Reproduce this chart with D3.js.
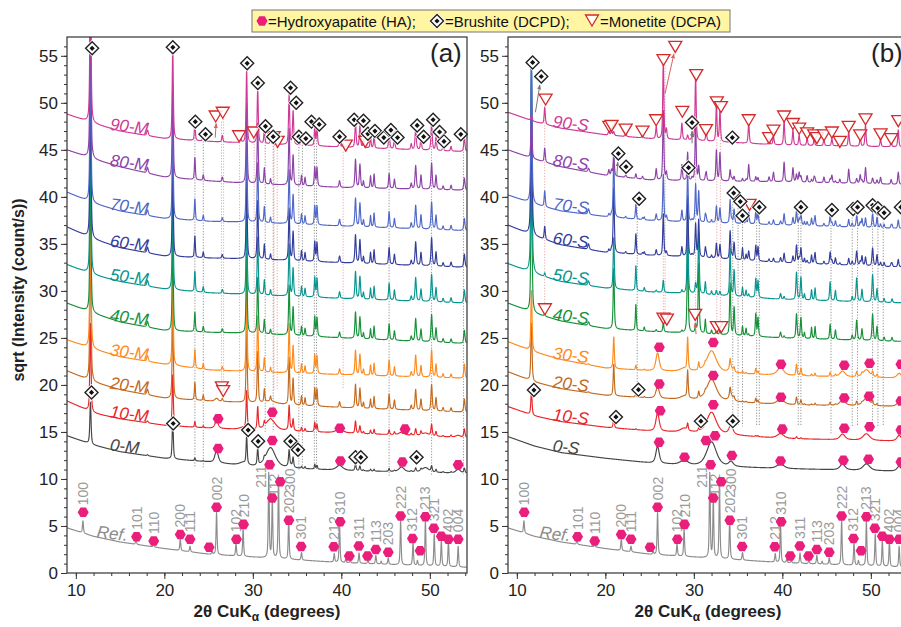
<!DOCTYPE html>
<html>
<head>
<meta charset="utf-8">
<script src="https://cdn.jsdelivr.net/npm/d3@7"></script>
<style>
  body { margin: 0; background: #fff; }
  svg { font-family: "Liberation Sans", Arial, sans-serif; }
</style>
</head>
<body>
<svg id="chart" width="901" height="627"></svg>
<script>
// ---- data (2theta in degrees, sqrt intensity) ----
const xNodes = [9, 12, 15, 20, 25, 30, 40, 54.2];

const samplesM = ["Ref.", "0-M", "10-M", "20-M", "30-M", "40-M", "50-M", "60-M", "70-M", "80-M", "90-M"];
const samplesS = ["Ref.", "0-S", "10-S", "20-S", "30-S", "40-S", "50-S", "60-S", "70-S", "80-S", "90-S"];
const sampleColors = ["#8c8c8c", "#454545", "#e8262a", "#c46a1e", "#ff8a1c", "#16913a",
                      "#07958f", "#333d9c", "#5068c8", "#8d42a8", "#cf3a97"];

// background (baseline) at xNodes, one row per sample
const baseM = [
  [4.8, 3.9, 3.3, 2.6, 2.0, 1.7, 1.1, 0.6],
  [14.6, 13.6, 12.9, 12.2, 11.8, 11.3, 10.9, 10.6],
  [18.3, 17.0, 16.4, 15.7, 15.4, 15.2, 14.9, 14.4],
  [21.5, 20.3, 19.5, 18.6, 18.3, 18.1, 17.6, 17.1],
  [24.8, 23.8, 23.0, 22.2, 21.6, 21.4, 21.1, 20.7],
  [28.7, 27.6, 26.7, 25.8, 25.6, 25.5, 25.0, 24.4],
  [32.8, 31.7, 31.0, 30.2, 29.8, 29.6, 29.2, 28.7],
  [36.8, 35.5, 34.6, 33.7, 33.5, 33.4, 33.0, 32.5],
  [40.5, 39.3, 38.5, 37.7, 37.4, 37.3, 36.9, 36.4],
  [45.0, 44.0, 43.2, 42.1, 41.7, 41.4, 41.0, 40.7],
  [48.8, 47.8, 47.0, 46.2, 45.9, 45.7, 45.3, 44.8]
];
const baseS = [
  [4.8, 3.9, 3.3, 2.6, 2.0, 1.7, 1.1, 0.6],
  [14.5, 13.5, 12.8, 12.2, 11.7, 11.4, 11.1, 10.8],
  [17.7, 16.7, 16.1, 15.5, 15.1, 14.9, 14.3, 14.0],
  [21.4, 20.3, 19.6, 18.9, 18.6, 18.4, 17.9, 17.7],
  [24.6, 23.5, 22.7, 21.8, 21.5, 21.4, 21.0, 20.7],
  [28.7, 27.6, 26.8, 26.0, 25.7, 25.5, 25.0, 24.6],
  [32.9, 31.8, 31.0, 30.3, 29.9, 29.7, 29.1, 28.7],
  [37.0, 35.8, 34.9, 34.1, 33.8, 33.6, 33.0, 32.5],
  [40.2, 39.2, 38.5, 37.9, 37.5, 37.3, 37.0, 36.6],
  [45.0, 44.0, 43.2, 42.3, 41.8, 41.7, 41.6, 41.3],
  [49.0, 48.0, 47.3, 46.6, 46.2, 46.0, 45.5, 45.3]
];

// reference hydroxyapatite pattern
const refPos = [10.8, 16.8, 18.8, 21.8, 22.9, 25.4, 25.9, 28.1, 28.9, 31.8, 32.2, 32.9, 34.05, 35.5, 39.2, 39.8,
                40.5, 41.0, 42.0, 43.0, 43.9, 44.5, 45.3, 46.7, 48.1, 48.6, 49.5, 50.5, 51.3, 52.1, 53.2];
const refHt = [1.3, 0.5, 0.35, 1.2, 0.6, 0.3, 4.5, 1.3, 2.9, 9.0, 6.2, 8.0, 4.3, 0.8, 0.9, 4.0,
               0.4, 0.3, 1.1, 0.4, 0.9, 0.3, 0.7, 4.7, 2.4, 0.5, 4.8, 3.4, 2.7, 2.7, 2.2];

// brushite reflections
const bruPos = [11.65, 18.1, 20.95, 23.45, 24.4, 29.3, 30.55, 31.3, 32.0, 34.1, 34.55, 35.5, 35.9, 37.0, 37.25, 39.8,
                41.6, 42.1, 42.5, 43.3, 43.7, 45.4, 46.0, 47.9, 48.4, 49.0, 50.2, 50.7, 51.5, 52.4, 53.9];
const bruWid = [0.16, 0.2, 0.15, 0.13, 0.13, 0.15, 0.15, 0.13, 0.13, 0.15, 0.15, 0.13, 0.13, 0.14, 0.14, 0.16,
                0.16, 0.16, 0.13, 0.13, 0.13, 0.15, 0.15, 0.15, 0.17, 0.15, 0.17, 0.15, 0.15, 0.15, 0.17];
const bruM = [
  [],
  [4.5, 0.1, 4.3, 0.3, 0.1, 3.0, 1.8, 0.3, 0, 1.6, 1.0, 0.2, 0.2, 0.5, 0.4, 0.1, 0.7, 0.5, 0.1, 0.2, 0.2, 0.3, 0.1, 0.1, 0.4, 0.2, 0.6, 0.3, 0.1, 0.1, 0.5],
  [9.5, 0.2, 5.5, 0.6, 0.2, 4.0, 2.4, 0.5, 0.1, 2.5, 1.2, 0.4, 0.3, 1.0, 0.8, 0.2, 1.3, 0.8, 0.2, 0.4, 0.5, 0.5, 0.3, 0.2, 0.7, 0.4, 1.2, 0.5, 0.1, 0.2, 0.9],
  [16, 0.6, 9.5, 1.9, 0.6, 8.0, 5.5, 1.4, 0.5, 5.0, 2.8, 1.0, 0.8, 1.9, 1.8, 0.6, 2.5, 2.1, 0.6, 1.0, 1.3, 1.6, 1.0, 0.5, 2.2, 1.2, 2.8, 1.4, 0.4, 0.4, 1.4],
  [16, 0.6, 10, 2.0, 0.6, 8.5, 6.0, 1.5, 0.5, 5.2, 2.9, 1.0, 0.8, 2.0, 1.9, 0.6, 2.6, 2.2, 0.6, 1.1, 1.3, 1.7, 1.0, 0.5, 2.3, 1.2, 2.9, 1.4, 0.4, 0.4, 1.5],
  [16, 0.6, 10, 2.1, 0.6, 8.5, 6.0, 1.5, 0.5, 5.3, 3.0, 1.0, 0.8, 2.1, 2.0, 0.6, 2.8, 2.3, 0.6, 1.1, 1.4, 1.7, 1.0, 0.5, 2.4, 1.3, 2.9, 1.5, 0.4, 0.4, 1.4],
  [16, 0.6, 10, 2.2, 0.6, 8.5, 6.2, 1.6, 0.6, 5.5, 3.0, 1.1, 0.9, 2.1, 2.0, 0.7, 2.9, 2.4, 0.7, 1.2, 1.4, 1.8, 1.1, 0.5, 2.5, 1.3, 2.9, 1.5, 0.4, 0.5, 1.4],
  [16, 0.6, 10, 2.3, 0.6, 8.5, 6.3, 1.6, 0.6, 5.5, 3.1, 1.1, 0.9, 2.1, 2.0, 0.7, 3.0, 2.5, 0.7, 1.2, 1.5, 1.8, 1.1, 0.5, 2.5, 1.4, 3.0, 1.5, 0.4, 0.5, 1.4],
  [16, 0.6, 10, 2.3, 0.6, 8.5, 6.4, 1.7, 0.6, 5.7, 3.1, 1.1, 0.9, 2.0, 2.0, 0.7, 3.0, 2.5, 0.7, 1.2, 1.5, 1.7, 1.0, 0.6, 2.5, 1.5, 2.9, 1.5, 0.4, 0.5, 1.3],
  [17, 0.6, 10, 2.4, 0.6, 8.5, 6.5, 1.7, 0.6, 6.0, 3.2, 1.1, 0.9, 2.0, 2.0, 0.7, 3.0, 2.5, 0.7, 1.3, 1.5, 1.6, 1.0, 0.6, 2.5, 1.5, 2.8, 1.5, 0.4, 0.5, 1.3],
  [17, 0.6, 9.8, 2.0, 0.8, 7.8, 5.8, 1.6, 0.7, 5.3, 3.6, 1.2, 1.0, 2.0, 2.0, 0.8, 2.6, 2.3, 0.8, 1.2, 1.5, 1.9, 1.2, 0.6, 2.3, 1.3, 2.9, 1.4, 0.5, 0.5, 1.5]
];
const bruS = [
  [],
  [],
  [2.6, 0, 1.1, 0.1, 0, 0.7, 0.3, 0, 0, 0.3, 0, 0, 0, 0.1, 0.1, 0, 0.2, 0.1],
  [6.2, 0.1, 3.4, 0.4, 0.1, 2.9, 0.7, 0.2, 0, 0.9, 0.3, 0.1, 0.1, 0.5, 0.3, 0, 0.8, 0.5, 0.1, 0.1, 0.2, 0.3, 0.1, 0, 0.4, 0.1, 0.4, 0.2, 0, 0, 0.3],
  [6.5, 0.1, 3.4, 0.5, 0.1, 3.4, 0.8, 0.2, 0, 1.0, 0.4, 0.2, 0.1, 0.6, 0.3, 0, 1.2, 0.8, 0.1, 0.2, 0.3, 0.4, 0.2, 0, 0.5, 0.2, 0.5, 0.3, 0, 0, 0.4],
  [16, 0.4, 6.5, 2.8, 0.4, 10, 7.5, 1.5, 0.4, 5.5, 3.0, 1.0, 0.8, 2.4, 2.0, 0.6, 2.6, 2.2, 0.6, 1.2, 1.3, 1.6, 1.0, 0.5, 2.1, 1.2, 2.8, 1.5, 0.4, 0.4, 1.4],
  [22, 0.5, 5.5, 2.7, 0.4, 8.5, 6.5, 1.3, 0.4, 5.0, 2.8, 1.0, 0.7, 2.0, 1.8, 0.6, 2.9, 2.4, 0.6, 1.1, 1.3, 2.0, 1.1, 0.5, 2.5, 1.3, 2.9, 1.4, 0.4, 0.4, 1.4],
  [18, 0.6, 7.0, 2.2, 0.3, 6.5, 4.0, 1.0, 0.3, 3.0, 1.8, 1.3, 0.6, 1.6, 1.5, 0.5, 1.9, 1.6, 0.5, 0.9, 1.1, 1.3, 0.7, 0.4, 1.5, 1.0, 1.9, 1.2, 0.4, 0.3, 1.3],
  [14.5, 0.6, 6.5, 1.6, 0.3, 5.3, 3.3, 0.8, 0.3, 2.5, 1.5, 1.2, 0.5, 1.4, 1.3, 0.4, 1.5, 1.3, 0.4, 0.8, 1.0, 1.1, 0.6, 0.4, 1.2, 0.9, 1.5, 1.1, 0.4, 0.3, 1.2],
  [4.0, 0.4, 2.5, 0.5, 0, 3.0, 1.5, 0.3, 0, 1.2, 0.5, 0.3, 0.2, 0.5, 0.4, 0, 0.8, 0.6, 0, 0.3, 0.3, 0.4, 0.2, 0, 0.5, 0.3, 0.6, 0.4],
  [0.6, 0, 0.4, 0, 0, 0.5]
];

// monetite reflections
const monPos = [13.15, 20.4, 20.7, 22.3, 24.2, 25.75, 26.55, 26.9, 28.65, 29.8, 30.2, 31.4, 32.55, 32.95, 34.3, 36.2,
                38.5, 39.0, 40.2, 41.2, 41.9, 42.8, 43.6, 44.7, 45.6, 46.5, 47.5, 48.8, 49.4, 51.1, 52.3, 53.1];
const monM = [
  [], [], [], [0, 0, 0, 0, 0, 0, 0.3], [0, 0, 0, 0, 0, 0, 0.4], [0, 0, 0, 0, 0, 0, 0.4],
  [0, 0, 0, 0, 0, 0, 0.4], [0, 0, 0, 0, 0, 0, 0.4], [0, 0, 0, 0, 0, 0, 0.4], [0, 0, 0, 0, 0, 0, 0.5],
  [0, 0, 0, 0, 0, 0, 0.7, 0, 0.4, 0, 0, 0, 0, 0, 0, 0, 0, 0, 0.4]
];
const monS = [
  [], [], [], [], [],
  [0.3, 0, 0, 0, 0, 0.2, 0.9, 0, 0.2, 0, 0.8, 0, 0.4, 0.4, 0, 0.2, 0, 0, 0.2],
  [0.4, 0, 0, 0, 0, 0.2, 1.3, 0, 0.3, 0, 1.0, 0, 0.5, 0.4, 0, 0.3, 0, 0, 0.3],
  [1.4, 0.3, 0.3, 0.2, 0.2, 0.6, 4.5, 0.4, 1.0, 0.2, 3.5, 0.4, 1.6, 1.5, 0.3, 1.0, 0.3, 0.4, 1.0, 0.7, 0.5, 0.3, 0.3, 0.3, 0.4, 0.2, 0.7, 0.4, 0.9, 0.4, 0.3, 0.8],
  [1.7, 0.3, 0.3, 0.2, 0.2, 0.7, 5.0, 0.5, 1.2, 0.2, 4.0, 0.5, 1.8, 1.6, 0.3, 1.2, 0.3, 0.5, 1.2, 0.8, 0.6, 0.4, 0.3, 0.3, 0.4, 0.2, 0.8, 0.5, 1.0, 0.4, 0.3, 0.9],
  [1.5, 0.6, 0.6, 0.3, 0.3, 1.2, 7.5, 0.8, 1.7, 0.3, 6.5, 0.9, 3.3, 3.0, 0.3, 1.8, 0.5, 1.0, 2.1, 1.5, 1.0, 0.7, 0.6, 0.6, 0.8, 0.4, 1.5, 0.9, 1.7, 0.7, 0.5, 1.3],
  [1.8, 0.5, 0.5, 0.4, 0.4, 1.3, 8.2, 1.0, 1.8, 0.4, 6.8, 1.0, 3.8, 3.3, 0.4, 2.2, 0.6, 0.9, 2.6, 1.6, 1.1, 0.8, 0.7, 0.7, 0.8, 0.4, 1.6, 1.0, 2.3, 0.8, 0.5, 1.8]
];

// broad hydroxyapatite humps in the samples
const haPos = [25.9, 28.9, 32.0, 34.2, 39.8, 46.8, 49.5, 53.2];
const haWid = [0.45, 1.0, 1.3, 0.6, 0.9, 0.7, 0.9, 0.6];
const haM = [
  [], [1.3, 0.3, 2.1, 0.3, 0.5, 0.5, 0.5, 0.4], [0.8, 0.2, 1.2, 0.2, 0.4, 0.3, 0.3, 0.2], [0.3, 0, 0.3]
];
const haS = [
  [], [1.8, 0.5, 2.6, 0.5, 0.5, 0.6, 0.7, 0.5], [1.9, 0.4, 2.3, 0.8, 0.5, 0.6, 0.7, 0.6],
  [1.2, 0.3, 2.3, 0.6, 0.6, 0.6, 0.8, 0.5], [1.9, 0.3, 2.3, 0.5, 0.8, 0.6, 0.8, 0.5]
];

// phase markers [2theta, level] and reference hkl markers [2theta, level, hkl]
const refMarks = [
  [10.83, 6.45, "100"], [16.86, 3.86, "101"], [18.8, 3.4, "110"], [21.8, 4.1, "200"], [22.9, 3.6, "111"],
  [25.06, 2.73, ""], [25.9, 7.0, "002"], [28.15, 3.58, "102"], [28.95, 5.17, "210"], [31.9, 11.5, "211"],
  [32.2, 7.97, "112"], [33.1, 9.7, "300"], [34.07, 5.6, "202"], [35.46, 2.83, "301"], [39.15, 2.8, "212"],
  [39.87, 5.45, "310"], [40.9, 1.8, ""], [41.98, 2.87, "311"], [42.96, 1.8, ""], [43.9, 2.5, "113"],
  [45.3, 2.2, "203"], [46.7, 6.05, "222"], [48.04, 3.68, "312"], [48.9, 2.37, ""], [49.5, 5.98, "213"],
  [50.45, 4.75, "321"], [51.3, 3.9, ""], [52.1, 3.6, "402"], [53.2, 3.6, "004"]
];
const haMarkA = [[26.08, 16.4], [32.2, 17.1], [39.83, 15.4], [47.2, 15.3],
                 [26.08, 13.25], [32.2, 14.1], [39.9, 11.9], [46.9, 11.8], [53.2, 11.5]];
const bruMarkA = [
  [11.84, 55.8], [20.96, 55.9], [23.5, 48.0], [24.65, 46.65], [29.36, 54.2], [30.56, 52.1], [31.43, 47.5],
  [32.3, 46.4], [34.26, 51.6], [34.9, 50.0], [35.2, 46.4], [35.99, 46.2], [36.63, 48.0], [37.5, 47.7],
  [39.8, 46.4], [41.45, 48.2], [42.5, 48.1], [43.0, 46.7], [43.8, 47.0], [44.8, 46.3], [45.6, 47.1],
  [46.35, 46.3], [48.57, 47.6], [49.3, 46.4], [50.37, 48.2], [51.1, 46.9], [51.6, 45.9], [53.5, 46.65],
  [11.77, 19.2], [21.0, 15.9], [29.47, 15.2], [30.6, 14.0], [34.26, 14.0], [35.1, 13.1],
  [41.6, 12.3], [42.2, 12.3], [48.5, 12.3]
];
const monMarkA = [[25.8, 48.6], [26.6, 49.0], [28.45, 46.5], [30.1, 46.9], [32.35, 46.4], [32.8, 45.9],
                  [40.5, 45.5], [42.7, 45.9], [26.5, 19.8], [26.65, 19.4]];
const haMarkB = [
  [26.1, 24.0], [32.2, 24.5], [39.85, 22.2], [47.0, 22.1], [49.86, 22.3], [53.4, 22.2],
  [26.1, 20.1], [32.2, 21.0], [39.85, 18.7], [47.0, 18.6], [49.8, 18.8], [53.4, 18.3],
  [26.2, 17.25], [32.2, 17.9], [40.0, 15.3], [47.0, 15.4], [49.86, 15.55], [53.4, 15.2],
  [26.08, 13.9], [28.95, 12.3], [31.37, 14.1], [32.4, 14.6], [34.3, 12.5], [39.8, 11.9],
  [46.9, 12.0], [49.74, 12.1], [53.4, 11.8]
];
const bruMarkB = [
  [11.78, 54.3], [12.76, 52.8], [29.8, 47.9], [34.35, 46.3], [21.47, 44.6], [22.34, 43.2], [29.4, 43.1],
  [23.82, 39.8], [34.5, 40.4], [35.25, 39.5], [35.5, 38.0], [37.4, 38.9], [42.1, 38.9], [45.6, 38.6],
  [48.0, 38.7], [48.5, 38.9], [50.2, 39.1], [50.8, 38.8], [51.5, 38.3], [53.4, 38.9],
  [11.93, 19.45], [23.74, 19.5], [21.2, 16.6], [30.8, 16.15], [34.4, 16.15]
];
const monMarkB = [
  [13.25, 50.4], [26.57, 54.6], [27.9, 56.0], [30.27, 53.0], [20.45, 47.5], [20.7, 47.6], [22.3, 47.2],
  [24.2, 47.0], [25.74, 48.2], [28.7, 49.1], [31.37, 47.15], [32.6, 50.1], [33.07, 49.6], [36.2, 48.2],
  [38.5, 46.3], [39.0, 47.1], [40.2, 48.6], [41.2, 47.8], [41.9, 47.3], [42.8, 46.8], [43.6, 46.6],
  [43.9, 46.3], [44.7, 46.6], [45.6, 46.9], [46.5, 45.9], [47.5, 47.5], [48.8, 46.6], [49.4, 48.3],
  [51.1, 46.7], [52.3, 46.2], [53.1, 48.1],
  [36.3, 39.2], [13.17, 28.1], [26.57, 27.1], [26.95, 27.0], [30.15, 27.5], [32.6, 26.2], [33.1, 26.2]
];

// dotted guide lines [2theta, from, to]
const guideGreyA = [[23.45, 47.5, 11.2], [24.4, 46.2, 11.2], [31.4, 47.0, 15.0], [32.3, 46.0, 15.0],
                    [35.2, 46.2, 11.0], [35.6, 45.8, 11.0], [36.95, 47.5, 10.9], [37.2, 47.5, 10.9],
                    [45.4, 46.8, 10.3], [50.2, 47.8, 10.4], [53.8, 46.3, 10.5]];
const guideRedA = [[26.45, 48.0, 19.5], [26.7, 48.3, 19.5], [28.5, 45.8, 19.5], [30.15, 46.2, 19.5],
                   [32.4, 45.8, 19.5], [32.75, 45.3, 19.5], [40.2, 44.8, 19.5]];
const guideGreyB = [[23.6, 39.2, 19.0], [34.4, 39.8, 15.6], [35.0, 38.8, 15.6], [35.5, 37.4, 15.6],
                    [37.1, 38.2, 15.6], [37.4, 38.2, 15.6], [41.8, 38.2, 15.6], [42.1, 38.2, 15.6],
                    [45.5, 37.9, 14.8], [47.9, 38.1, 15.6], [48.5, 38.2, 15.6], [50.2, 38.4, 15.6],
                    [50.8, 38.1, 15.6], [51.4, 37.6, 15.6]];
const guideRedB = [[13.15, 49.7, 28.7], [26.55, 54.0, 27.5], [26.75, 54.0, 27.5], [30.2, 52.3, 27.8],
                   [32.6, 49.4, 26.6], [33.0, 49.0, 26.6]];

// arrows [x1, y1, x2, y2, kind]
const arrowsA = [[25.75, 46.3, 25.85, 47.8, "red"]];
const arrowsB = [[26.75, 51.0, 27.75, 55.2, "red"], [12.1, 49.0, 12.6, 51.9, "grey"],
                 [29.8, 45.7, 29.8, 47.0, "grey"], [21.3, 42.2, 21.4, 43.7, "grey"],
                 [30.25, 25.4, 30.15, 26.6, "red"]];

const yTicks = [0, 5, 10, 15, 20, 25, 30, 35, 40, 45, 50, 55];
const xTicks = [10, 20, 30, 40, 50];

// ---- drawing ----
const svg = d3.select("#chart");
const plotTop = 37, plotBottom = 573, panelW = 400;
const HA_COL = "#ea1f7b", MON_COL = "#d42a2a";

const defs = svg.append("defs");
[["red", "#d96060"], ["grey", "#777"]].forEach(([k, c]) => {
  defs.append("marker").attr("id", "ah-" + k).attr("viewBox", "0 0 10 10")
    .attr("refX", 9).attr("refY", 5).attr("markerWidth", 5).attr("markerHeight", 5)
    .attr("orient", "auto")
    .append("path").attr("d", "M0,1L10,5L0,9Z").attr("fill", c);
});

function pv(t, p, h, w) {
  const d = (t - p) / (w / 2);
  return h * (0.6 / (1 + d * d) + 0.4 * Math.exp(-0.693 * d * d));
}

function pattern(i, bases, bru, mon, ha) {
  const bs = d3.scaleLinear().domain(xNodes).range(bases[i]);
  return d3.range(9, 54.2, 0.02).map(t => {
    let v = bs(t);
    if (i === 0) {
      refPos.forEach((p, k) => { v += pv(t, p, refHt[k], 0.13); });
    } else {
      (bru[i] || []).forEach((h, k) => { if (h) v += pv(t, bruPos[k], h, bruWid[k]); });
      (mon[i] || []).forEach((h, k) => { if (h) v += pv(t, monPos[k], h, 0.15); });
      (ha[i] || []).forEach((h, k) => { if (h) v += pv(t, haPos[k], h, haWid[k]); });
    }
    return [t, v];
  });
}

function hexPath(r) {
  return d3.range(6).map(k => {
    const a = Math.PI / 3 * k;
    return [r * Math.cos(a), r * Math.sin(a)];
  }).map((p, k) => (k ? "L" : "M") + p[0].toFixed(2) + "," + p[1].toFixed(2)).join("") + "Z";
}
function drawHA(g, cx, cy) {
  g.append("path").attr("d", hexPath(5.5)).attr("transform", `translate(${cx},${cy})`)
    .attr("fill", HA_COL);
}
function drawBru(g, cx, cy) {
  const s = g.append("g").attr("transform", `translate(${cx},${cy})`);
  s.append("path").attr("d", "M0,-8.5L8.5,0L0,8.5L-8.5,0Z").attr("fill", "#fff");
  s.append("path").attr("d", "M0,-6.5L6.5,0L0,6.5L-6.5,0Z").attr("fill", "#fff")
    .attr("stroke", "#222").attr("stroke-width", 1.4);
  s.append("path").attr("d", "M0,-2.6L2.6,0L0,2.6L-2.6,0Z").attr("fill", "#111");
}
function drawMon(g, cx, cy) {
  g.append("path").attr("d", "M-6.5,-5L6.5,-5L0,6Z").attr("transform", `translate(${cx},${cy})`)
    .attr("fill", "rgba(255,255,255,0.85)").attr("stroke", MON_COL).attr("stroke-width", 1.3);
}

function drawPanel(id, left, samples, bases, bru, mon, ha, marks, guides, arrows, tag, labelX) {
  const x = d3.scaleLinear().domain([9, 54.2]).range([left, left + panelW]);
  const y = d3.scaleLinear().domain([0, 57]).range([plotBottom, plotTop]);
  const g = svg.append("g");

  defs.append("clipPath").attr("id", "clip-" + id)
    .append("rect").attr("x", left).attr("y", plotTop).attr("width", panelW).attr("height", plotBottom - plotTop);
  const plot = g.append("g").attr("clip-path", `url(#clip-${id})`);

  // guides
  guides.grey.forEach(d => plot.append("line")
    .attr("x1", x(d[0])).attr("x2", x(d[0])).attr("y1", y(d[1])).attr("y2", y(d[2]))
    .attr("stroke", "#777").attr("stroke-width", 0.8).attr("stroke-dasharray", "1.2,1.6"));
  guides.red.forEach(d => plot.append("line")
    .attr("x1", x(d[0])).attr("x2", x(d[0])).attr("y1", y(d[1])).attr("y2", y(d[2]))
    .attr("stroke", "#e58f8f").attr("stroke-width", 0.8).attr("stroke-dasharray", "1.2,1.6"));

  // traces: reference first, upper ones drawn on top
  const line = d3.line().x(d => x(d[0])).y(d => y(d[1]));
  samples.forEach((name, i) => {
    plot.append("path").datum(pattern(i, bases, bru, mon, ha))
      .attr("d", line).attr("fill", "none")
      .attr("stroke", sampleColors[i]).attr("stroke-width", 1.15).attr("stroke-linejoin", "round");
  });

  // trace labels
  samples.forEach((name, i) => {
    const bs = d3.scaleLinear().domain(xNodes).range(bases[i]);
    const lx = i === 0 ? labelX - 1.5 : labelX;
    const ly = bs(lx + 2.2) + (i === 0 ? 0.4 : 0.3);
    g.append("text").text(name)
      .attr("transform", `translate(${x(lx)},${y(ly)}) rotate(7)`)
      .attr("font-size", 17).attr("font-style", "italic")
      .attr("fill", sampleColors[i]);
  });

  // arrows
  arrows.forEach(d => g.append("line")
    .attr("x1", x(d[0])).attr("y1", y(d[1])).attr("x2", x(d[2])).attr("y2", y(d[3]))
    .attr("stroke", d[4] === "red" ? "#d96060" : "#777").attr("stroke-width", 1)
    .attr("marker-end", `url(#ah-${d[4]})`));

  // reference hkl markers and labels
  const lblOff = { "211": [-8.5, 30], "112": [1.5, 5], "300": [9.5, 17] };
  refMarks.forEach(d => {
    const mx = x(d[0]), my = y(d[1]);
    if (d[2]) {
      const off = lblOff[d[2]] || [0, 0];
      g.append("text").text(d[2])
        .attr("transform", `translate(${mx + 5 + off[0]},${my - 7 + off[1]}) rotate(-90)`)
        .attr("font-size", 14).attr("fill", "#9a9a9a");
    }
  });
  const mk = g.append("g");
  refMarks.forEach(d => drawHA(mk, x(d[0]), y(d[1])));
  marks.ha.forEach(d => drawHA(mk, x(d[0]), y(d[1])));
  marks.mon.forEach(d => drawMon(mk, x(d[0]), y(d[1])));
  marks.bru.forEach(d => drawBru(mk, x(d[0]), y(d[1])));

  // frame
  g.append("rect").attr("x", left).attr("y", plotTop).attr("width", panelW).attr("height", plotBottom - plotTop)
    .attr("fill", "none").attr("stroke", "#333").attr("stroke-width", 1.2);

  // axes
  g.append("g").attr("transform", `translate(${left},0)`)
    .call(d3.axisLeft(y).tickValues(yTicks).tickSize(6).tickPadding(3).tickSizeOuter(0));
  g.append("g").attr("transform", `translate(${left},0)`)
    .call(d3.axisLeft(y).tickValues(d3.range(0, 57, 1)).tickSize(3).tickFormat("").tickSizeOuter(0));
  g.append("g").attr("transform", `translate(0,${plotBottom})`)
    .call(d3.axisBottom(x).tickValues(xTicks).tickSize(6).tickPadding(5).tickSizeOuter(0));
  g.append("g").attr("transform", `translate(0,${plotBottom})`)
    .call(d3.axisBottom(x).tickValues(d3.range(10, 54.2, 2)).tickSize(3).tickFormat("").tickSizeOuter(0));
  g.selectAll(".domain").remove();
  g.selectAll(".tick line").attr("stroke", "#333").attr("stroke-width", 1);
  g.selectAll(".tick text").attr("font-size", 17).attr("fill", "#222")
    .attr("font-family", "'Liberation Sans', Arial, sans-serif");

  // x title
  const xt = g.append("text").attr("x", left + 200).attr("y", 617).attr("text-anchor", "middle")
    .attr("font-size", 17).attr("font-weight", "bold").attr("fill", "#222");
  xt.append("tspan").text("2\u03B8 CuK");
  xt.append("tspan").text("\u03B1").attr("font-size", 12).attr("dy", 4);
  xt.append("tspan").text(" (degrees)").attr("dy", -4);

  // panel tag
  g.append("text").text(tag).attr("x", left + 363).attr("y", 62)
    .attr("font-size", 26).attr("fill", "#222");
}

drawPanel("a", 67, samplesM, baseM, bruM, monM, haM,
  { ha: haMarkA, bru: bruMarkA, mon: monMarkA },
  { grey: guideGreyA, red: guideRedA }, arrowsA, "(a)", 13.8);
drawPanel("b", 508, samplesS, baseS, bruS, monS, haS,
  { ha: haMarkB, bru: bruMarkB, mon: monMarkB },
  { grey: guideGreyB, red: guideRedB }, arrowsB, "(b)", 14.0);

// y title
svg.append("text").text("sqrt (Intensity (count/s))")
  .attr("transform", "translate(24,290) rotate(-90)").attr("text-anchor", "middle")
  .attr("font-size", 16).attr("font-weight", "bold").attr("fill", "#222");

// legend
const lg = svg.append("g");
lg.append("rect").attr("x", 252).attr("y", 10).attr("width", 478).attr("height", 22)
  .attr("fill", "#fff5a3").attr("stroke", "#777").attr("stroke-width", 1);
drawHA(lg, 262, 21);
lg.append("text").text("=Hydroxyapatite (HA);").attr("x", 268).attr("y", 26.5).attr("font-size", 15).attr("fill", "#111");
drawBru(lg, 437, 21);
lg.append("text").text("=Brushite (DCPD);").attr("x", 445).attr("y", 26.5).attr("font-size", 15).attr("fill", "#111");
drawMon(lg, 592, 20);
lg.append("text").text("=Monetite (DCPA)").attr("x", 600).attr("y", 26.5).attr("font-size", 15).attr("fill", "#111");
</script>
</body>
</html>
